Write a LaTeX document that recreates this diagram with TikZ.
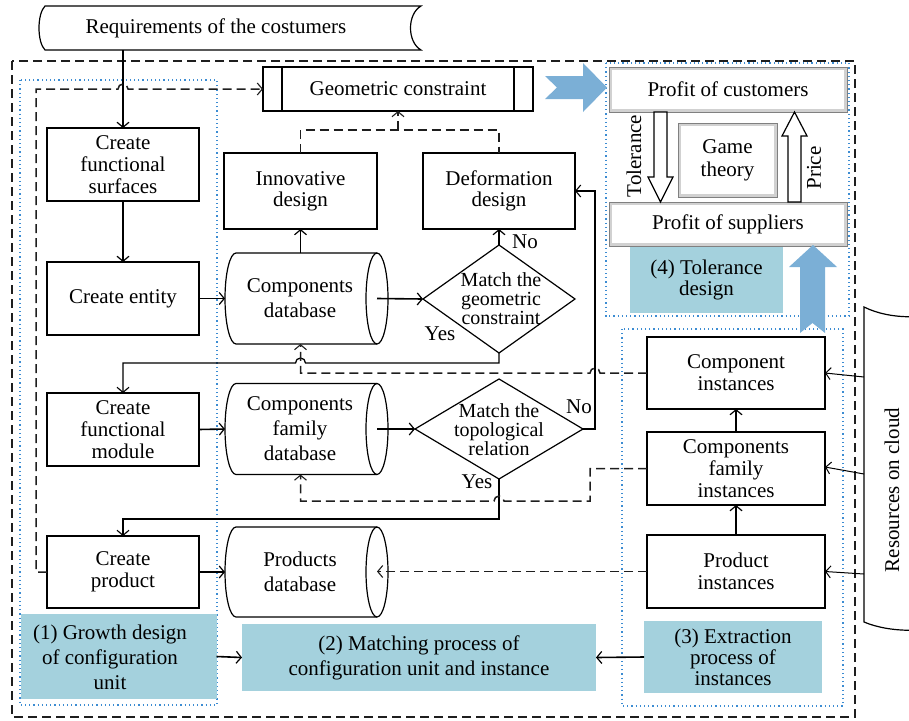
\documentclass[tikz,border=0pt]{standalone}
\usepackage{fontspec}
\setmainfont{Liberation Serif}
\usetikzlibrary{arrows.meta,shapes.geometric,calc}

\definecolor{labelblue}{RGB}{164,209,221}
\definecolor{arrowblue}{RGB}{123,175,214}
\definecolor{zoneblue}{RGB}{60,140,210}
\definecolor{dashgray}{RGB}{30,30,30}

% allow lines closer than their natural height
\newcommand\tightlines{\lineskiplimit=-50pt\relax}

\tikzset{
  every node/.style={inner sep=0pt, outer sep=0pt, font=\fontsize{21}{22}\selectfont},
  wide/.style={font=\fontsize{21}{25}\selectfont},
  box/.style={draw, line width=1.2pt, fill=white, align=center},
  pbox/.style={draw=black!50, line width=1pt, fill=black!18, align=center,
    path picture={\fill[white] ([shift={(2.5pt,-2.5pt)}]path picture bounding box.north west)
      rectangle ([shift={(-3pt,3pt)}]path picture bounding box.south east);}},
  lbl/.style={fill=labelblue},
  shapeline/.style={line width=1.2pt},
  frame/.style={draw=dashgray, line width=1.5pt, dash pattern=on 9pt off 5pt},
  zone/.style={draw=zoneblue, line width=1.2pt, dash pattern=on 1.2pt off 3pt},
  conn/.style={line width=1.6pt, -{Straight Barb[length=5pt,width=12pt,line width=1.2pt]}},
  connthin/.style={line width=1.3pt, -{Straight Barb[length=5pt,width=12pt,line width=1.1pt]}},
  dline/.style={draw=dashgray, line width=1.5pt, dash pattern=on 9pt off 5pt},
  darrow/.style={dline, -{Straight Barb[length=5pt,width=12pt,line width=1.1pt]}},
  tipthin/.style={line width=1pt, -{Straight Barb[length=5pt,width=12pt,line width=1pt]}},
  bluearrow/.style={fill=arrowblue, draw=none},
  hollow/.style={fill=white, draw, line width=1.2pt},
  decision/.style={align=center, font={\fontsize{20}{#1}\selectfont\tightlines}},
}

% horizontal database cylinder drawn around an invisible body node
\newcommand\dbcylinder[2]{%
  \draw[shapeline, fill=white] (#1.north west) -- (#1.north east)
    arc[start angle=90, end angle=-90, x radius=11pt, y radius=#2]
    -- (#1.south west)
    arc[start angle=270, end angle=90, x radius=11pt, y radius=#2] -- cycle;
  \draw[shapeline] (#1.north east) arc[start angle=90, end angle=270, x radius=11pt, y radius=#2];}

\begin{document}
\begin{tikzpicture}[x=1pt, y=-1pt]
\useasboundingbox (0,0) rectangle (909,720);
\clip (0,0) rectangle (909,720);

% ---------- frames of the four parts ----------
\draw[frame] (12,61) rectangle (855,717);
\draw[zone] (20,80) rectangle (217,705);
\draw[zone] (606,63) rectangle (849,316);
\draw[zone] (622,329) rectangle (843,706);

% ---------- customer requirements ----------
\draw[shapeline, fill=white] (45,6) -- (421,6) .. controls (407,14) and (407,42) .. (421,50)
  -- (45,50) .. controls (37,42) and (37,14) .. (45,6) -- cycle;
\node[minimum height=44pt] (req) at (216,28) {Requirements of the costumers};

% ---------- growth design column ----------
\node[box, minimum width=152pt, minimum height=73pt] (cfs) at (123,164.5) {Create\\functional\\surfaces};
\node[box, minimum width=152pt, minimum height=73pt] (ce) at (123,298.5) {Create entity};
\node[box, minimum width=152pt, minimum height=73pt] (cfm) at (123,429.5) {Create\\functional\\module};
\node[box, minimum width=152pt, minimum height=72pt] (cp) at (123,572) {Create\\product};

% ---------- databases ----------
\node[minimum width=141pt, minimum height=91pt] (cdb) at (306.5,298.5) {};
\dbcylinder{cdb}{45.5pt}
\node[wide, align=center] (cdbt) at (300,298) {Components\\database};

\node[minimum width=141pt, minimum height=91pt] (cfdb) at (306.5,429) {};
\dbcylinder{cfdb}{45.5pt}
\node[wide, align=center] (cfdbt) at (300,429) {Components\\family\\database};

\node[minimum width=141pt, minimum height=90pt] (pdb) at (306.5,572) {};
\dbcylinder{pdb}{45pt}
\node[wide, align=center] (pdbt) at (300,572) {Products\\database};

% ---------- design boxes ----------
\node[box, minimum width=270pt, minimum height=44pt] (geo) at (398,89) {Geometric constraint};
\draw[shapeline] ([xshift=19pt]geo.north west) -- ([xshift=19pt]geo.south west);
\draw[shapeline] ([xshift=-19pt]geo.north east) -- ([xshift=-19pt]geo.south east);
\node[box, minimum width=153pt, minimum height=76pt, font=\fontsize{21}{21}\selectfont] (innov) at (300.5,191) {Innovative\\design};
\node[box, minimum width=152pt, minimum height=76pt, font=\fontsize{21}{21}\selectfont] (deform) at (499,191) {Deformation\\design};

% ---------- decisions ----------
\node[diamond, draw, line width=1.2pt, fill=white, minimum width=152pt, minimum height=108pt] (gd) at (499,299) {};
\node[decision=19] (gdt) at (501,299) {Match the\\geometric\\constraint};
\node[diamond, draw, line width=1.2pt, fill=white, minimum width=168pt, minimum height=100pt] (td) at (499,429) {};
\node[decision=19] (tdt) at (499,430) {Match the\\topological\\relation};
\node (no1) at (525,242) {No};
\node (yes1) at (440,334) {Yes};
\node (no2) at (579,407) {No};
\node (yes2) at (477,482) {Yes};

% ---------- instances column ----------
\node[box, minimum width=178pt, minimum height=72pt] (ci) at (736,373) {Component\\instances};
\node[box, minimum width=178pt, minimum height=73pt] (cfi) at (736,468.5) {Components\\family\\instances};
\node[box, minimum width=178pt, minimum height=73pt] (pi) at (736,571.5) {Product\\instances};

% ---------- cloud resources ----------
\draw[shapeline, fill=white] (864,307) .. controls (890,320) and (930,320) .. (956,307)
  -- (956,622) .. controls (930,633) and (890,633) .. (864,622) -- cycle;
\node[rotate=90] (res) at (892,490) {Resources on cloud};
\coordinate (r1) at (864,377);
\coordinate (r2) at (864,474);
\coordinate (r3) at (864,574);

% ---------- tolerance design ----------
\node[pbox, minimum width=238pt, minimum height=45pt] (pcu) at (728,89.5) {Profit of customers};
\node[pbox, minimum width=238pt, minimum height=44pt] (psu) at (728,224) {Profit of suppliers};
\node[pbox, minimum width=99pt, minimum height=74pt, font=\fontsize{21}{23}\selectfont] (game) at (727.5,160) {Game\\theory};
\draw[hollow] (654,112) -- (667,112) -- (667,177) -- (673,177) -- (660.5,202) -- (648,177) -- (654,177) -- cycle;
\draw[hollow] (788,202) -- (801,202) -- (801,136) -- (807,136) -- (794.5,112) -- (782,136) -- (788,136) -- cycle;
\node[rotate=90] (tol) at (634,156) {Tolerance};
\node[rotate=90] (price) at (814,168) {Price};

% ---------- part labels ----------
\node[lbl, minimum width=196pt, minimum height=85pt] (lab1) at (118.5,656.5) {};
\node[wide, align=center] (lab1t) at (110,657) {(1) Growth design\\of configuration\\unit};
\node[lbl, wide, align=center, minimum width=354pt, minimum height=67pt] (lab2) at (419,657.5) {(2) Matching process of\\configuration unit and instance};
\node[lbl, align=center, minimum width=178pt, minimum height=72pt, font=\fontsize{21}{21}\selectfont] (lab3) at (733,657) {(3) Extraction\\process of\\instances};
\node[lbl, align=center, minimum width=153pt, minimum height=66pt, font=\fontsize{21}{20.5}\selectfont] (lab4) at (706.5,280) {(4) Tolerance\\design};

% ---------- wide blue arrows ----------
\path[bluearrow] (545,76) -- (583,76) -- (583,63) -- (607,87.5) -- (583,112) -- (583,99) -- (545,99) -- (557,87.5) -- cycle;
\path[bluearrow] (800,333) -- (800,267) -- (789,267) -- (813,245) -- (837,267) -- (825,267) -- (825,333) -- (812.5,323) -- cycle;

% ---------- solid connectors ----------
\draw[conn] (req.south -| cfs.north) -- (cfs.north);
\draw[conn] (cfs.south) -- (ce.north);
\draw[conn] (ce.east) -- ([xshift=-11pt]cdb.west);
\draw[conn] (cdb.north -| innov.south) -- (innov.south);
\draw[conn] (cdb.east) -- (gd.west);
\draw[conn] (gd.north) -- (deform.south);
\draw[connthin] (gd.south) -- (499,363) -- (305.5,363) arc[start angle=0, end angle=180, radius=5pt]
  -- (123,363) -- (cfm.north);
\draw[conn] (cfm.east) -- ([xshift=-11pt]cfdb.west);
\draw[conn] (cfdb.east) -- (td.west);
\draw[connthin] (td.east) -- (595,429) -- (595,191) -- (deform.east);
\draw[connthin] (td.south) -- (499,519) -- (123,519) -- (cp.north);
\draw[conn] (cp.east) -- ([xshift=-11pt]pdb.west);
\draw[conn] (pi.north) -- (cfi.south);
\draw[conn] (cfi.north) -- (ci.south);
\draw[tipthin] (r1) -- (ci.east);
\draw[tipthin] (r2) -- ([yshift=1.5pt]cfi.east);
\draw[tipthin] (r3) -- (pi.east);
\draw[conn] (lab1.east) -- (lab2.west);
\draw[conn] (lab3.west) -- (lab2.east);

% ---------- dashed connectors ----------
\draw[dline] (innov.north) -- (300.5,130) -- (499,130) -- (deform.north);
\draw[darrow] (398,130) -- (geo.south);
\draw[darrow] (cp.west) -- (36,572) -- (36,89) -- (118,89) arc[start angle=180, end angle=0, radius=5pt] -- (geo.west);
\draw[darrow] (ci.west) -- (600,373) arc[start angle=0, end angle=180, radius=5pt] -- (300.5,373) -- (cdb.south -| innov.south);
\draw[darrow] (cfi.west) -- (590,468.5) -- (590,501) -- (504,501) arc[start angle=0, end angle=180, radius=5pt]
  -- (300.5,501) -- (cfdb.south -| innov.south);
\draw[darrow] (pi.west) -- (pi.west -| pdb.east);
\end{tikzpicture}
\end{document}
